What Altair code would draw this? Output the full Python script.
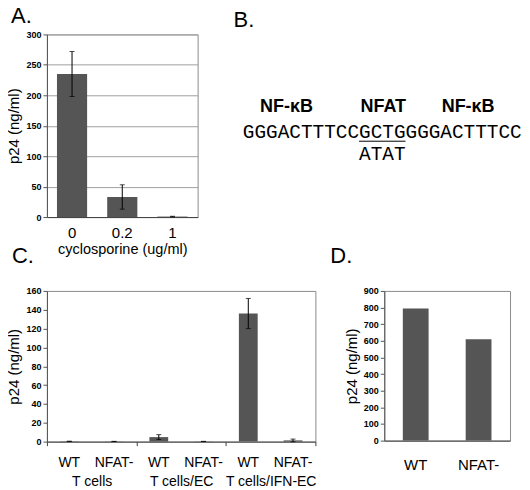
import altair as alt
import pandas as pd

# ---------------- data ----------------
# Panel A
a_dose = ["0", "0.2", "1"]
a_p24 = [235, 33, 0.8]
a_err = [37, 20, 0.5]

# Panel C
c_groups = ["T cells", "T cells/EC", "T cells/IFN-EC"]
c_geno = ["WT", "NFAT-"]
c_p24 = [0.3, 0.2, 4.8, 0.2, 136, 1.3]
c_err = [0.2, 0.1, 2.6, 0.1, 16, 1.4]

# Panel D
d_geno = ["WT", "NFAT-"]
d_p24 = [795, 610]

# Panel B
b_sites = ["NF-κB", "NFAT", "NF-κB"]
b_left = "GGGACTTTCC"
b_site = "GCTG"
b_right = "GGGACTTTCC"
b_mutation = "ATAT"

# ---------------- styles / layout ----------------
FONT = "Liberation Sans"
MONO = "Liberation Mono"
BAR = "#555555"
FRAME = "#8c8c8c"
AXIS_DARK = "#555555"

A_W, A_H = 151, 183
B_W, B_H = 126, 183
C_W, C_H = 269, 151
D_W, D_H = 126, 150

SEQ_FS = 19.4
CHAR_W = 0.6 * SEQ_FS
SEQ_X = -2           # centre of sequence, relative to panel B/D column
SITE_X = [-98, -1, 84]
SITE_Y, SEQ_Y, UNDER_Y, MUT_Y = 73, 98, 107, 120

A_TICKS = list(range(0, 301, 50))
C_TICKS = list(range(0, 161, 20))
D_TICKS = list(range(0, 901, 100))


def panel_title(text, dx, offset):
    return alt.TitleParams(text, anchor="start", frame="group", dx=dx, offset=offset,
                           fontSize=22, fontWeight="normal", font=FONT, color="black")


def y_axis(values, title="p24 (ng/ml)", grid=False):
    return alt.Axis(values=values, title=title, grid=grid, gridColor="#a0a0a0",
                    labelFontSize=9, labelFontWeight="bold", tickSize=4, labelPadding=2,
                    titleFontSize=15, titleFontWeight="normal", titlePadding=4,
                    domainColor=AXIS_DARK, tickColor=AXIS_DARK)


# ---------------- Panel A ----------------
df_a = pd.DataFrame({"dose": a_dose, "p24": a_p24, "err": a_err})
df_a["lo"] = df_a["p24"] - df_a["err"]
df_a["hi"] = df_a["p24"] + df_a["err"]

xa = alt.X("dose:N", sort=a_dose,
           scale=alt.Scale(paddingInner=0.4, paddingOuter=0.2),
           axis=alt.Axis(title="cyclosporine (ug/ml)", labelAngle=0, labelFontSize=15,
                         ticks=False, labelPadding=8, titleFontSize=14.5,
                         titleFontWeight="normal", titlePadding=3, domainColor="#404040"))
ya_scale = alt.Scale(domain=[0, 300], nice=False)
bars_a = alt.Chart(df_a).mark_bar(color=BAR).encode(
    x=xa,
    y=alt.Y("p24:Q", scale=ya_scale, axis=y_axis(A_TICKS, grid=True)),
)
err_a = alt.Chart(df_a).mark_errorbar(ticks=True, size=5, thickness=1, color="black").encode(
    x=alt.X("dose:N", sort=a_dose),
    y=alt.Y("lo:Q", scale=ya_scale, axis=y_axis(A_TICKS, grid=True)),
    y2="hi:Q",
)
panel_a = alt.layer(bars_a, err_a).properties(
    width=A_W, height=A_H, title=panel_title("A.", -36, 2))

# ---------------- Panel B ----------------
seq = b_left + b_site + b_right
seq_left = SEQ_X - len(seq) * CHAR_W / 2
u0 = seq_left + len(b_left) * CHAR_W
u1 = u0 + len(b_site) * CHAR_W

df_sites = pd.DataFrame({"label": b_sites, "x": SITE_X, "y": [SITE_Y] * 3})
df_seq = pd.DataFrame({"label": [seq, b_mutation], "x": [SEQ_X, SEQ_X], "y": [SEQ_Y, MUT_Y]})
df_under = pd.DataFrame({"x": [u0], "x2": [u1], "y": [UNDER_Y]})

bx = alt.Scale(domain=[0, B_W], nice=False, zero=False)
by = alt.Scale(domain=[0, B_H], nice=False, zero=False, reverse=True)

sites = alt.Chart(df_sites).mark_text(font=FONT, fontSize=18, fontWeight="bold",
                                      baseline="middle", align="center", color="black").encode(
    x=alt.X("x:Q", scale=bx, axis=None), y=alt.Y("y:Q", scale=by, axis=None), text="label:N")
seqtext = alt.Chart(df_seq).mark_text(font=MONO, fontSize=SEQ_FS, baseline="middle",
                                      align="center", color="black").encode(
    x=alt.X("x:Q", scale=bx, axis=None), y=alt.Y("y:Q", scale=by, axis=None), text="label:N")
under = alt.Chart(df_under).mark_rule(color="black", strokeWidth=1).encode(
    x=alt.X("x:Q", scale=bx, axis=None), x2="x2:Q", y=alt.Y("y:Q", scale=by, axis=None))

panel_b = alt.layer(sites, seqtext, under).properties(
    width=B_W, height=B_H, title=panel_title("B.", -151, 2),
    view=alt.ViewBackground(stroke=None))

# ---------------- Panel C ----------------
rows = []
i = 0
for g in c_groups:
    for k in c_geno:
        rows.append({"key": f"{k}|{g}", "group": g, "geno": k,
                     "p24": c_p24[i], "err": c_err[i]})
        i += 1
df_c = pd.DataFrame(rows)
df_c["lo"] = df_c["p24"] - df_c["err"]
df_c["hi"] = df_c["p24"] + df_c["err"]
keys = list(df_c["key"])

xc_scale = alt.Scale(paddingInner=0.58, paddingOuter=0.29)
yc_scale = alt.Scale(domain=[0, 160], nice=False)
bars_c = alt.Chart(df_c).mark_bar(color=BAR).encode(
    x=alt.X("key:N", sort=keys, scale=xc_scale,
            axis=alt.Axis(title=None, labelExpr="split(datum.label, '|')[0]", labelAngle=0,
                          ticks=False, labelPadding=14, labelFontSize=14, labelOverlap=False,
                          domainColor="#404040")),
    y=alt.Y("p24:Q", scale=yc_scale, axis=y_axis(C_TICKS)),
)
err_c = alt.Chart(df_c).mark_errorbar(ticks=True, size=5, thickness=1, color="black").encode(
    x=alt.X("key:N", sort=keys),
    y=alt.Y("lo:Q", scale=yc_scale, axis=y_axis(C_TICKS)),
    y2="hi:Q",
)
df_g = pd.DataFrame({"group": c_groups})
groups_c = alt.Chart(df_g).mark_point(opacity=0).encode(
    x=alt.X("group:N", sort=c_groups, scale=alt.Scale(paddingInner=0, paddingOuter=0),
            axis=alt.Axis(orient="bottom", title=None, tickBand="extent", tickSize=4,
                          tickColor="#404040", labelPadding=29, labelFontSize=14,
                          labelAngle=0, labelOverlap=False, domain=False)),
    y=alt.value(0),
)
panel_c = alt.layer(alt.layer(bars_c, err_c), groups_c).resolve_scale(
    x="independent").resolve_axis(x="independent").properties(
    width=C_W, height=C_H, title=panel_title("C.", -35, 19))

# ---------------- Panel D ----------------
df_d = pd.DataFrame({"geno": d_geno, "p24": d_p24})
panel_d = alt.Chart(df_d).mark_bar(color=BAR).encode(
    x=alt.X("geno:N", sort=d_geno, scale=alt.Scale(paddingInner=0.59, paddingOuter=0.295),
            axis=alt.Axis(title=None, labelAngle=0, labelFontSize=15, ticks=False,
                          labelPadding=17, domainColor="#404040")),
    y=alt.Y("p24:Q", scale=alt.Scale(domain=[0, 900], nice=False), axis=y_axis(D_TICKS)),
).properties(width=D_W, height=D_H, title=panel_title("D.", -54, 19))

# ---------------- layout ----------------
chart = alt.concat(panel_a, panel_b, panel_c, panel_d, columns=2,
                   spacing={"row": 74, "column": 69}, bounds="flush").properties(
    padding={"left": -2, "top": -4, "right": 0, "bottom": -3}
).configure(font=FONT).configure_view(stroke=FRAME, strokeWidth=1).configure_axis(
    labelColor="black", titleColor="black", labelFont=FONT, titleFont=FONT
)

chart.save("out.html", embed_options={"renderer": "svg", "actions": False})
